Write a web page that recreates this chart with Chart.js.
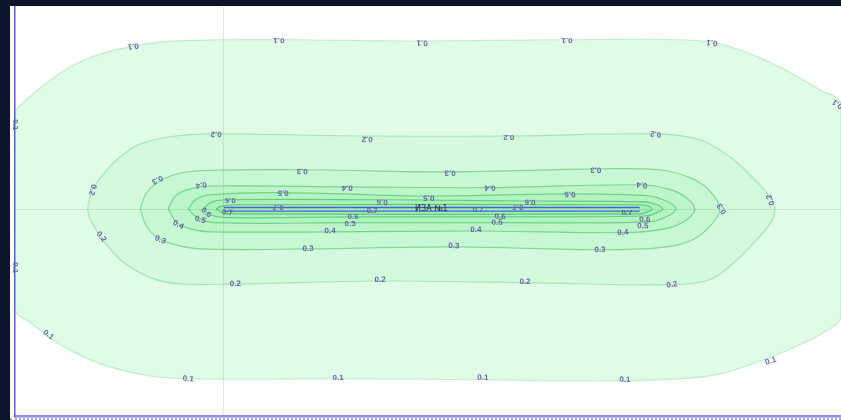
<!DOCTYPE html>
<html lang="ru">
<head>
<meta charset="utf-8">
<title>Изолинии концентрации</title>
<script src="https://cdn.jsdelivr.net/npm/chart.js@4.4.1/dist/chart.umd.min.js"></script>
<style>
  html, body { margin: 0; padding: 0; background: #0b1428; }
  body { width: 841px; height: 420px; overflow: hidden; position: relative; }
  #frame { position: absolute; left: 10px; top: 6px; width: 831px; height: 412px; background: #fff; border-bottom: 2px dotted #a9a9bd; }
  canvas { display: block; }
</style>
</head>
<body>
<div id="frame"><canvas id="izolinii" width="831" height="412"></canvas></div>
<script>
(function () {
    'use strict';

    // уровни изолиний (доли ПДК)
    var levels = [0.1, 0.2, 0.3, 0.4, 0.5, 0.6, 0.7];

    // контуры, м (x вдоль источника, y поперёк)
    var c01 = [[-499, 239], [-439, 292], [-367, 342], [-295, 373], [-223, 390], [-151, 402], [-7, 407], [185, 407],
        [473, 404], [809, 407], [1097, 407], [1193, 397], [1289, 364], [1385, 316], [1433, 287], [1484, 253],
        [1484, -256], [1433, -301], [1385, -325], [1313, -356], [1193, -395], [1097, -407], [905, -412],
        [617, -409], [281, -407], [-79, -407], [-175, -400], [-295, -371], [-391, -325], [-463, -272], [-499, -241]];
    var c02 = [[-326, 1], [-314, 47], [-283, 90], [-247, 126], [-199, 157], [-115, 176], [-19, 181], [353, 176],
        [689, 176], [1037, 181], [1145, 167], [1217, 126], [1277, 71], [1313, 30], [1325, -1], [1313, -35],
        [1277, -78], [1229, -126], [1169, -169], [1078, -181], [725, -176], [377, -172], [29, -179], [-103, -179],
        [-175, -164], [-247, -121], [-295, -64], [-319, -25]];
    var c03 = [[-199, 1], [-187, 35], [-163, 61], [-127, 80], [-67, 92], [185, 95], [545, 90], [895, 97],
        [1049, 95], [1121, 76], [1166, 47], [1193, 1], [1166, -44], [1121, -76], [1049, -92], [905, -97],
        [554, -90], [204, -95], [-55, -95], [-122, -83], [-163, -64], [-187, -35]];
    var c04 = [[-132, 1], [-115, 32], [-79, 49], [-31, 56], [298, 54], [641, 52], [1001, 59], [1068, 49],
        [1109, 30], [1133, 1], [1109, -28], [1061, -47], [960, -56], [607, -52], [257, -54], [-31, -54],
        [-79, -47], [-113, -30]];
    var c05 = [[-84, 1], [-67, 23], [-31, 35], [144, 40], [494, 32], [833, 37], [1025, 32], [1068, 18],
        [1087, 1], [1068, -16], [1025, -30], [658, -32], [305, -32], [-19, -32], [-62, -20]];
    var c06 = [[-48, 1], [-31, 16], [5, 23], [382, 23], [737, 20], [1013, 18], [1042, 11], [1056, 1],
        [1042, -8], [1013, -16], [665, -18], [312, -18], [5, -20], [-31, -13]];
    var c07 = [[-17, 1], [-2, 8], [41, 11], [1001, 11], [1020, 8], [1030, 1], [1020, -6], [1001, -11],
        [41, -11], [-2, -8]];
    var contours = [c01, c02, c03, c04, c05, c06, c07];

    // точки подписей на изолиниях, м
    var lab01 = [[-216, 392], [134, 407], [478, 400], [826, 407], [1174, 400], [1476, 253], [-499, 203],
        [-499, -140], [-420, -301], [-84, -407], [276, -404], [624, -404], [965, -409], [1315, -364]];
    var lab02 = [[-17, 181], [346, 169], [686, 172], [1039, 181], [-314, 47], [-293, -66], [29, -179],
        [377, -169], [725, -174], [1078, -181], [1315, 23]];
    var lab03 = [[-158, 71], [190, 92], [545, 88], [895, 95], [1198, 1], [-151, -73], [204, -95],
        [554, -88], [905, -97]];
    var lab04 = [[-53, 59], [298, 52], [641, 52], [1006, 59], [-108, -37], [257, -52], [607, -49], [960, -56]];
    var lab05 = [[144, 40], [494, 28], [833, 37], [-55, -25], [305, -35], [658, -32], [1008, -40]];
    var lab06 = [[17, 23], [382, 18], [737, 18], [-41, -8], [312, -18], [665, -18], [1013, -25]];
    var lab07 = [[132, 6], [708, 4], [10, -8], [358, -4], [612, -1], [970, -8]];
    var labelPoints = [lab01, lab02, lab03, lab04, lab05, lab06, lab07];

    // линейный источник
    var sourceName = 'ИЗА №1';
    var sourceLine = [[2, 0], [1000, 0]];
    var sourceLabelAt = [500, 0];

    var fillColors = ['rgba(60,230,100,0.16)', 'rgba(60,220,100,0.08)', 'rgba(60,220,100,0.08)',
        'rgba(60,220,100,0.08)', 'rgba(60,220,100,0.08)', 'rgba(60,220,100,0.08)', 'rgba(60,220,100,0.08)'];
    var lineColors = ['rgba(90,200,120,0.3)', 'rgba(80,195,110,0.38)', 'rgba(70,190,100,0.55)',
        'rgba(70,190,100,0.6)', 'rgba(70,190,100,0.65)', 'rgba(70,190,100,0.7)', 'rgba(70,190,100,0.75)'];

    function toPoints(arr) {
        var pts = arr.map(function (p) { return { x: p[0], y: p[1] }; });
        pts.push({ x: arr[0][0], y: arr[0][1] });
        return pts;
    }

    // угол подписи по ближайшему отрезку контура (обход в обратную сторону)
    function lineAngle(pts, px, py) {
        var best = Infinity, ang = 0;
        for (var i = 0; i < pts.length; i++) {
            var a = pts[i], b = pts[(i + 1) % pts.length];
            var dx = b[0] - a[0], dy = b[1] - a[1];
            var len2 = dx * dx + dy * dy || 1;
            var t = Math.max(0, Math.min(1, ((px - a[0]) * dx + (py - a[1]) * dy) / len2));
            var qx = a[0] + t * dx - px, qy = a[1] + t * dy - py;
            var d = qx * qx + qy * qy;
            if (d < best) { best = d; ang = Math.atan2(a[1] - b[1], a[0] - b[0]); }
        }
        return ang;
    }

    var contourLabels = {
        id: 'contourLabels',
        afterDatasetsDraw: function (chart) {
            var ctx = chart.ctx, area = chart.chartArea;
            var sx = chart.scales.x, sy = chart.scales.y;
            ctx.save();
            ctx.beginPath();
            ctx.rect(area.left - 6, area.top, area.right - area.left + 6, area.bottom - area.top);
            ctx.clip();
            ctx.textAlign = 'center';
            ctx.textBaseline = 'middle';
            ctx.font = 'bold 8px "Liberation Sans", Arial, sans-serif';
            ctx.fillStyle = '#6a64a6';
            levels.forEach(function (lvl, i) {
                var pix = contours[i].map(function (p) {
                    return [sx.getPixelForValue(p[0]), sy.getPixelForValue(p[1])];
                });
                labelPoints[i].forEach(function (l) {
                    var px = sx.getPixelForValue(l[0]);
                    var py = sy.getPixelForValue(l[1]);
                    ctx.save();
                    ctx.translate(px, py);
                    ctx.rotate(lineAngle(pix, px, py));
                    ctx.fillText(lvl.toFixed(1), 0, 0);
                    ctx.restore();
                });
            });
            ctx.font = '8px "DejaVu Sans", sans-serif';
            ctx.fillStyle = '#1f2430';
            ctx.fillText(sourceName, sx.getPixelForValue(sourceLabelAt[0]), sy.getPixelForValue(sourceLabelAt[1]));
            ctx.restore();
        }
    };

    var datasets = levels.map(function (lvl, i) {
        return {
            label: String(lvl),
            data: toPoints(contours[i]),
            showLine: true,
            fill: 'shape',
            backgroundColor: fillColors[i],
            borderColor: lineColors[i],
            borderWidth: 1.2,
            tension: 0.35,
            pointRadius: 0,
            order: levels.length + 2 - i
        };
    });

    var srcPts = sourceLine.map(function (p) { return { x: p[0], y: p[1] }; });
    datasets.push({
        label: sourceName,
        data: srcPts,
        showLine: true,
        fill: false,
        borderColor: '#4a62d6',
        borderWidth: 5,
        pointRadius: 0,
        order: 1
    });
    datasets.push({
        label: sourceName,
        data: srcPts,
        showLine: true,
        fill: false,
        borderColor: '#a4ecb6',
        borderWidth: 2.4,
        pointRadius: 0,
        order: 0
    });

    function onlyZero(scale) { scale.ticks = [{ value: 0 }]; }

    new Chart(document.getElementById('izolinii'), {
        type: 'scatter',
        data: { datasets: datasets },
        options: {
            responsive: false,
            animation: false,
            devicePixelRatio: 1,
            layout: { padding: { left: 5, right: 0, top: 0, bottom: 2 } },
            plugins: {
                legend: { display: false },
                tooltip: { enabled: false }
            },
            scales: {
                x: {
                    type: 'linear',
                    min: -500,
                    max: 1484,
                    afterBuildTicks: onlyZero,
                    ticks: { display: false },
                    grid: { color: '#e1e8e2', drawTicks: false },
                    border: { color: '#8b8bf0', width: 2.5 }
                },
                y: {
                    type: 'linear',
                    min: -496,
                    max: 488,
                    afterBuildTicks: onlyZero,
                    ticks: { display: false },
                    grid: { color: '#e1e8e2', drawTicks: false },
                    border: { color: '#5a5af2', width: 1.5 }
                }
            }
        },
        plugins: [contourLabels]
    });
})();
</script>
</body>
</html>
